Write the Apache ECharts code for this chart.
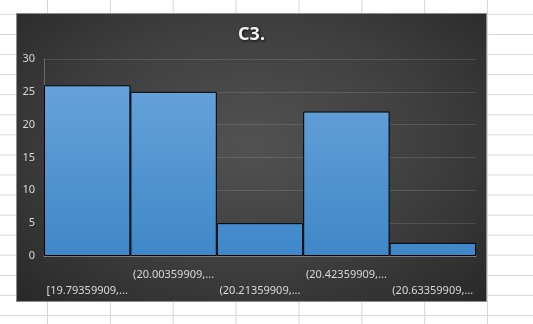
<!DOCTYPE html>
<html>
<head>
<meta charset="utf-8">
<script src="https://cdn.jsdelivr.net/npm/echarts@6/dist/echarts.min.js"></script>
<style>
html,body{margin:0;padding:0;width:533px;height:324px;overflow:hidden;}
body{
  background-color:#ffffff;
  background-image:linear-gradient(to right,#d6d6d6 1px,transparent 1px),linear-gradient(to bottom,#d6d6d6 1px,transparent 1px);
  background-size:62.86px 20.07px;
  background-position:47px 14px;
  position:relative;
}
#chart{
  position:absolute;left:17px;top:14px;width:469px;height:287px;
  outline:1px solid #8c8c8c;
  background:radial-gradient(ellipse at 50% 45%,#525252 0%,#3e3e3e 55%,#282828 100%);
}
</style>
</head>
<body>
<div id="chart"></div>
<script>
var titleText = 'C3.';
var categories = [
  '[19.79359909, 20.00359909]',
  '(20.00359909, 20.21359909]',
  '(20.21359909, 20.42359909]',
  '(20.42359909, 20.63359909]',
  '(20.63359909, 20.84359909]'
];
var counts = [26, 25, 5, 22, 2];
var yTicks = {min: 0, max: 30, interval: 5};

var chart = echarts.init(document.getElementById('chart'), null, {renderer: 'canvas'});
var font = '"Noto Sans", "Open Sans", sans-serif';
chart.setOption({
  backgroundColor: 'transparent',
  title: {
    text: titleText,
    left: 'center',
    top: 7,
    textStyle: {
      color: '#f2f2f2', fontSize: 18, fontWeight: 'bold', fontFamily: font,
      textShadowColor: 'rgba(0,0,0,0.8)', textShadowBlur: 3, textShadowOffsetX: 1, textShadowOffsetY: 1
    }
  },
  grid: {left: 27, right: 10, top: 45, bottom: 45, containLabel: false},
  xAxis: {
    type: 'category',
    data: categories,
    boundaryGap: true,
    axisLine: {show: true, lineStyle: {color: '#8c8c8c', width: 1.5}},
    axisTick: {show: false},
    axisLabel: {
      interval: 0,
      color: '#d9d9d9',
      fontSize: 11,
      fontFamily: font,
      margin: 11,
      lineHeight: 16,
      verticalAlign: 'top',
      formatter: function (v, i) {
        var t = v.split(',')[0] + ',...';
        return i % 2 === 0 ? '\n' + t : t;
      }
    }
  },
  yAxis: {
    type: 'value',
    min: yTicks.min, max: yTicks.max, interval: yTicks.interval,
    axisLine: {show: true, lineStyle: {color: '#6a6a6a', width: 1}},
    axisTick: {show: false},
    axisLabel: {color: '#d9d9d9', fontSize: 11, fontFamily: font, margin: 9},
    splitLine: {show: true, lineStyle: {color: 'rgba(255,255,255,0.13)', width: 1}}
  },
  series: [{
    type: 'bar',
    data: counts,
    barCategoryGap: '0%',
    barGap: '0%',
    itemStyle: {
      color: new echarts.graphic.LinearGradient(0, 45, 0, 242, [
        {offset: 0, color: '#6ca6dd'},
        {offset: 1, color: '#3f87c8'}
      ], true),
      borderColor: '#000000',
      borderWidth: 1
    },
    animation: false
  }],
  animation: false
});
</script>
</body>
</html>
